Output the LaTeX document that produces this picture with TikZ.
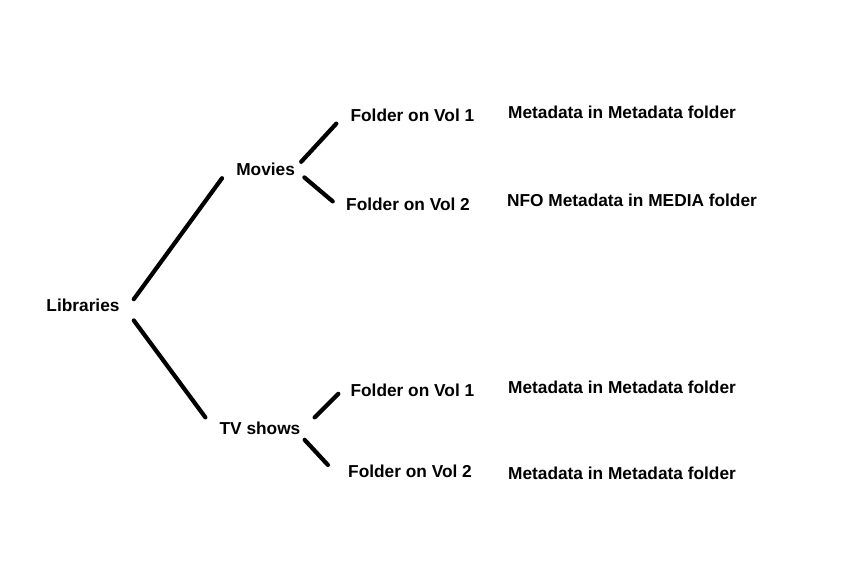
\documentclass[tikz,border=0pt]{standalone}
\usepackage{fontspec}
\setmainfont{Liberation Sans}
\usetikzlibrary{positioning,calc}

\begin{document}
\begin{tikzpicture}
      \tikzstyle{entry} = [inner xsep=0.35cm, inner ysep=0.05cm, font=\fontsize{12.3}{14}\selectfont\bfseries]
      \tikzstyle{branch} = [line width=3pt, line cap=round]
      \useasboundingbox (0,0) rectangle (21.1,-14.6);

      \node[entry] (lib) at (2.075,-7.625) {Libraries};
      \node[entry] (mov) at (6.64,-4.24) {Movies};
      \node[entry] (tv) at (6.5,-10.7) {TV shows};

      \node[entry] (mv1) at (10.31,-2.875) {Folder on Vol 1};
      \node[entry] (mv2) at (10.2,-5.1) {Folder on Vol 2};
      \node[entry] (tv1) at (10.31,-9.75) {Folder on Vol 1};
      \node[entry] (tv2) at (10.25,-11.79) {Folder on Vol 2};

      \node[entry] (md1) at (15.55,-2.81) {Metadata in Metadata folder};
      \node[entry] (md2) at (15.8,-5.0) {NFO Metadata in MEDIA folder};
      \node[entry] (md3) at (15.55,-9.69) {Metadata in Metadata folder};
      \node[entry] (md4) at (15.55,-11.825) {Metadata in Metadata folder};

      \draw[branch] ($(lib.north east)+(0,-0.07)$) -- (mov.south west);
      \draw[branch] ($(lib.south east)+(0,-0.17)$) -- ($(tv.north west)+(0,0.05)$);
      \draw[branch] ($(mov.north east)+(-0.2,-0.02)$) -- (mv1.south west);
      \draw[branch] ($(mov.south east)+(-0.12,0.02)$) -- ($(mv2.north west)+(0.02,-0.15)$);
      \draw[branch] ($(tv.north east)+(0,0.05)$) -- ($(tv1.south west)+(0.05,0.12)$);
      \draw[branch] ($(tv.south east)+(-0.25,-0.08)$) -- ($(tv2.north west)+(-0.15,-0.05)$);
    \end{tikzpicture}
\end{document}
